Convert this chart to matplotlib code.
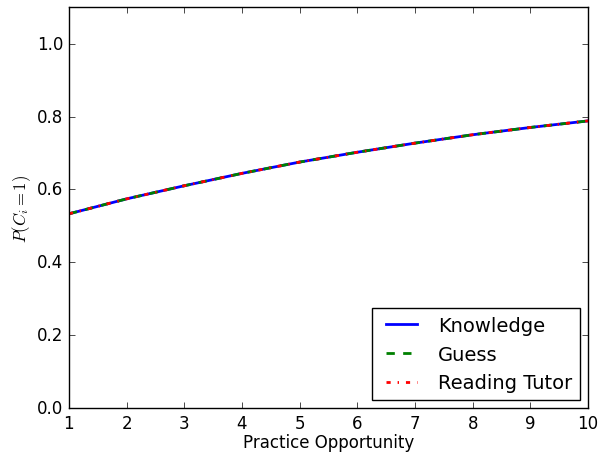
import matplotlib
matplotlib.use("Agg")
import matplotlib.pyplot as plt

plt.style.use("classic")

opportunity = [1, 2, 3, 4, 5, 6, 7, 8, 9, 10]
knowledge = [0.533, 0.574, 0.610, 0.644, 0.675, 0.702, 0.727, 0.750, 0.770, 0.788]
guess = [0.533, 0.574, 0.610, 0.644, 0.675, 0.702, 0.727, 0.750, 0.770, 0.788]
reading_tutor = [0.533, 0.574, 0.610, 0.644, 0.675, 0.702, 0.727, 0.750, 0.770, 0.788]

fig = plt.figure(figsize=(6.1, 4.56), dpi=100, facecolor="white")
ax = fig.add_axes([0.113, 0.103, 0.851, 0.879])
ax.plot(opportunity, knowledge, color="blue", linestyle="-", linewidth=2, label="Knowledge")
ax.plot(opportunity, guess, color="green", linestyle="--", linewidth=2, label="Guess")
ax.plot(opportunity, reading_tutor, color="red", linestyle="-.", linewidth=2, label="Reading Tutor")
ax.set_xlim(1, 10)
ax.set_ylim(0, 1.1)
ax.set_xticks(range(1, 11))
ax.set_yticks([0.0, 0.2, 0.4, 0.6, 0.8, 1.0])
ax.set_xlabel("Practice Opportunity", fontsize=12, labelpad=1)
ax.set_ylabel(r"$P(C_i=1)$", fontsize=12, labelpad=3)
ax.tick_params(labelsize=12)
leg = ax.legend(loc="lower right", fontsize=14, fancybox=False,
                handlelength=2.2, borderaxespad=0.4)
leg.get_frame().set_edgecolor("black")
fig.savefig("out.png", dpi=100, facecolor="white")
